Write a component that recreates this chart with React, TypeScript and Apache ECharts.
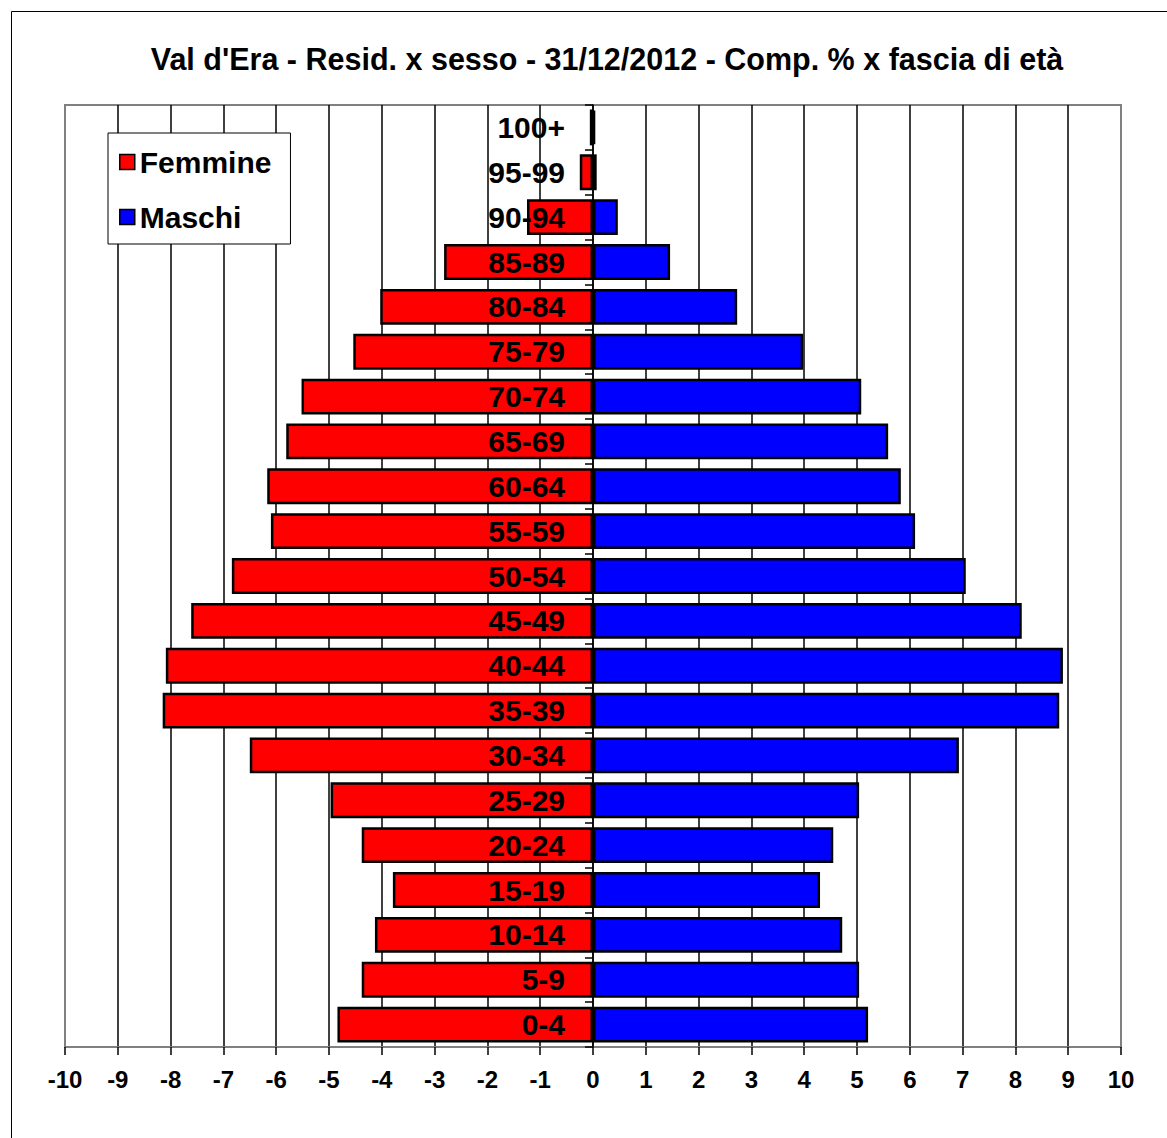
import React, { useEffect, useRef } from "react";
import * as echarts from "echarts";

const TITLE = "Val d'Era - Resid. x sesso - 31/12/2012 - Comp. % x fascia di età";
const categories = [
  "0-4", "5-9", "10-14", "15-19", "20-24", "25-29", "30-34", "35-39", "40-44", "45-49",
  "50-54", "55-59", "60-64", "65-69", "70-74", "75-79", "80-84", "85-89", "90-94", "95-99", "100+",
];
const femmine = [
  -4.84, -4.38, -4.13, -3.79, -4.38, -4.97, -6.5, -8.15, -8.09, -7.61,
  -6.84, -6.1, -6.17, -5.81, -5.52, -4.54, -4.03, -2.82, -1.25, -0.25, -0.06,
];
const maschi = [
  5.21, 5.04, 4.72, 4.3, 4.55, 5.04, 6.93, 8.83, 8.9, 8.12,
  7.06, 6.1, 5.83, 5.59, 5.08, 3.98, 2.73, 1.46, 0.47, 0.07, 0.04,
];
const FONT = "'Liberation Sans', Arial, Helvetica, sans-serif";

export default function App() {
  const ref = useRef<HTMLDivElement>(null);
  useEffect(() => {
    if (!ref.current) return;
    const chart = echarts.init(ref.current, undefined, { renderer: "svg" });
    chart.setOption({
      animation: false,
      backgroundColor: "#ffffff",
      graphic: [
        {
          type: "rect",
          z: -10,
          silent: true,
          shape: { x: 11.5, y: 11.5, width: 1200, height: 1200 },
          style: { fill: "none", stroke: "#000", lineWidth: 1 },
        },
        {
          type: "text",
          x: 607,
          y: 59,
          style: {
            text: TITLE,
            fill: "#000",
            font: `bold 30.5px ${FONT}`,
            textAlign: "center",
            textVerticalAlign: "middle",
          },
        },
      ],
      grid: {
        left: 65,
        right: 46,
        top: 105,
        bottom: 91,
        show: true,
        borderColor: "#808080",
        borderWidth: 2,
        backgroundColor: "transparent",
        outerBoundsMode: "none",
        containLabel: false,
      },
      legend: {
        orient: "vertical",
        left: 108,
        top: 133,
        data: ["Femmine", "Maschi"],
        icon: "rect",
        itemWidth: 15,
        itemHeight: 15,
        itemGap: 25,
        padding: [14, 19, 12, 11],
        backgroundColor: "#fff",
        borderColor: "#000",
        borderWidth: 1,
        itemStyle: { borderColor: "#000", borderWidth: 1.5 },
        textStyle: { fontFamily: FONT, fontWeight: "bold", fontSize: 30, lineHeight: 30, color: "#000" },
      },
      xAxis: {
        type: "value",
        min: -10,
        max: 10,
        interval: 1,
        axisLine: { show: true, lineStyle: { color: "#808080", width: 2 } },
        axisTick: { show: true, length: 8, lineStyle: { color: "#000", width: 1.5 } },
        axisLabel: { margin: 20, fontFamily: FONT, fontWeight: "bold", fontSize: 24, color: "#000" },
        splitLine: { show: true, showMinLine: false, showMaxLine: false, lineStyle: { color: "#000", width: 1.5 } },
      },
      yAxis: [
        {
          type: "category",
          data: categories,
          position: "left",
          z: 10,
          axisLine: { show: false, onZero: false },
          axisTick: { show: false },
          axisLabel: { margin: -500, align: "right", fontFamily: FONT, fontWeight: "bold", fontSize: 30, color: "#000" },
          splitLine: { show: false },
        },
        {
          type: "category",
          data: categories,
          position: "left",
          z: 9,
          axisLine: { show: true, onZero: true, lineStyle: { color: "#000", width: 1.5 } },
          axisTick: { show: true, length: 8, lineStyle: { color: "#000", width: 1.5 } },
          axisLabel: { show: false },
          splitLine: { show: false },
        },
      ],
      series: [
        {
          name: "Femmine",
          type: "bar",
          data: femmine,
          barGap: "-100%",
          barCategoryGap: "20%",
          itemStyle: { color: "#ff0000", borderColor: "#000", borderWidth: 2.5 },
        },
        {
          name: "Maschi",
          type: "bar",
          data: maschi,
          barGap: "-100%",
          barCategoryGap: "20%",
          itemStyle: { color: "#0000ff", borderColor: "#000", borderWidth: 2.5 },
        },
      ],
    });
    return () => chart.dispose();
  }, []);
  return (
    <div
      ref={ref}
      style={{ position: "absolute", left: 0, top: 0, width: 1167, height: 1138, background: "#fff" }}
    />
  );
}
